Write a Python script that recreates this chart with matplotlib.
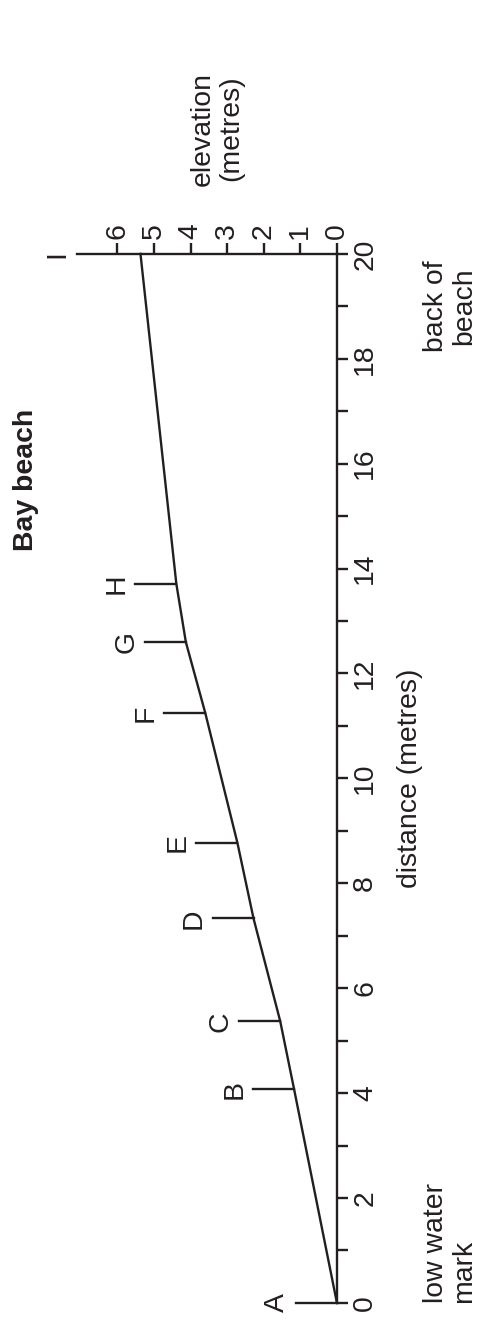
import matplotlib
matplotlib.use("Agg")
import matplotlib.pyplot as plt

plt.rcParams['font.family'] = ['Liberation Sans', 'DejaVu Sans']

# beach profile (distance in m, elevation in m)
points = ["A", "B", "C", "D", "E", "F", "G", "H", "I"]
distance = [0, 4.07, 5.37, 7.33, 8.77, 11.25, 12.6, 13.71, 20]
elevation = [0, 1.17, 1.55, 2.28, 2.72, 3.6, 4.13, 4.39, 5.37]

dist_ticks = [0, 2, 4, 6, 8, 10, 12, 14, 16, 18, 20]
elev_ticks = [0, 1, 2, 3, 4, 5, 6]

ink = '#231f20'
fs = 20.4
lw = 1.7

fig = plt.figure(figsize=(4.84, 13.26), dpi=100)
ax = fig.add_axes([0, 0, 1, 1])
# picture is turned a quarter: elevation runs right to left, distance bottom to top
ax.set_xlim(9.21, -4.02)
ax.set_ylim(-0.44, 24.84)

ax.plot(elevation, distance, color=ink, lw=lw, solid_joinstyle='miter')

# marker lines for the stations
mark_len = 1.12
for p, d, e in zip(points[:-1], distance[:-1], elevation[:-1]):
    ax.plot([e, e + mark_len], [d, d], color=ink, lw=lw)
    ax.annotate(p, (e + mark_len, d), xytext=(-4, 0), textcoords='offset points',
                rotation=90, ha='right', va='center', fontsize=fs, color=ink)
top_end = 7.1
ax.annotate(points[-1], (top_end, distance[-1]), xytext=(-5, 0), textcoords='offset points',
            rotation=90, ha='right', va='center', fontsize=fs, color=ink)

# axes
for s in ['left', 'bottom']:
    ax.spines[s].set_visible(False)
ax.spines['right'].set_position(('data', 0))
ax.spines['right'].set_bounds(0, 20)
ax.spines['top'].set_position(('data', 20))
ax.spines['top'].set_bounds(0, top_end)
for s in ['right', 'top']:
    ax.spines[s].set_linewidth(lw)
    ax.spines[s].set_color(ink)

ax.yaxis.tick_right()
ax.xaxis.tick_top()
ax.set_yticks(dist_ticks)
ax.set_yticks(range(0, 21), minor=True)
ax.set_xticks(elev_ticks)
ax.set_yticklabels([str(t) for t in dist_ticks])
ax.set_xticklabels([str(t) for t in elev_ticks])
ax.tick_params(axis='both', which='both', direction='out', length=8, width=lw,
               color=ink, labelcolor=ink, labelsize=fs, pad=3, labelrotation=90)
for lab in ax.get_yticklabels():
    lab.set_va('center')

ax.text(-2.0, 10, "distance (metres)", rotation=90, ha='center', va='center',
        fontsize=fs, color=ink)
ax.text(3.28, 22.39, "elevation\n(metres)", rotation=90, ha='center', va='center',
        fontsize=fs, color=ink, multialignment='center', linespacing=1.1)
ax.text(-3.09, 0, "low water\nmark", rotation=90, ha='center', va='bottom',
        fontsize=fs, color=ink, multialignment='left', linespacing=1.1)
ax.text(-3.09, 19.01, "back of\nbeach", rotation=90, ha='center', va='center',
        fontsize=fs, color=ink, multialignment='center', linespacing=1.1)
ax.text(8.5, 15.7, "Bay beach", rotation=90, ha='center', va='center',
        fontsize=fs, fontweight='bold', color=ink)

fig.savefig("out.png", dpi=100)
